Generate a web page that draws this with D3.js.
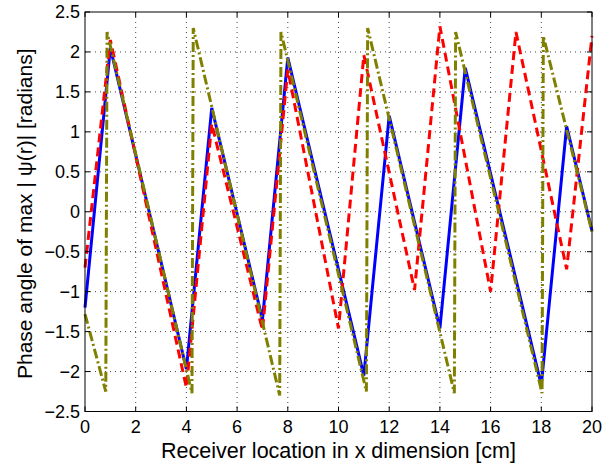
<!DOCTYPE html>
<html>
<head>
<meta charset="utf-8">
<script src="https://cdn.jsdelivr.net/npm/d3@7"></script>
<style>
  body { margin: 0; background: #fff; }
  svg { display: block; }
</style>
</head>
<body>
<div id="chart"></div>
<script>
// x ticks / y ticks
const xTicks = [0, 2, 4, 6, 8, 10, 12, 14, 16, 18, 20];
const yTicks = [-2.5, -2, -1.5, -1, -0.5, 0, 0.5, 1, 1.5, 2, 2.5];

// blue solid series (vertices)
const blueX = [0, 1, 4, 5, 7, 8, 11, 12, 14, 15, 18, 19, 20];
const blueY = [-1.2, 2.05, -1.97, 1.3, -1.35, 1.93, -2.05, 1.2, -1.46, 1.8, -2.17, 1.07, -0.24];

// red dashed series
const redX = [0, 1, 4, 5, 7, 8, 10, 11, 13, 14, 16, 17, 19, 20];
const redY = [-0.7, 2.15, -2.2, 1.1, -1.48, 1.78, -1.46, 1.96, -0.98, 2.32, -1.0, 2.25, -0.72, 2.2];

// olive dash-dot series
const oliveX = [0, 0.82, 0.87, 4.22, 4.27, 7.68, 7.73, 11.1, 11.15, 14.57, 14.62, 18.03, 18.08, 20];
const oliveY = [-1.28, -2.25, 2.25, -2.27, 2.3, -2.3, 2.25, -2.25, 2.3, -2.27, 2.25, -2.27, 2.2, -0.25];

const W = 616, H = 464;
const mLeft = 85, mRight = 592, mTop = 12, mBottom = 411.5;

const x = d3.scaleLinear().domain([0, 20]).range([mLeft, mRight]);
const y = d3.scaleLinear().domain([-2.5, 2.5]).range([mBottom, mTop]);

const svg = d3.select("#chart").append("svg")
    .attr("width", W)
    .attr("height", H)
    .style("font-family", "'Liberation Sans', Arial, Helvetica, sans-serif");

const fmt = v => (v < 0 ? "\u2212" : "") + Math.abs(v);

// grid
const grid = svg.append("g");
grid.selectAll(".gx")
    .data(xTicks.slice(1, -1))
    .enter().append("line")
    .attr("x1", d => x(d)).attr("x2", d => x(d))
    .attr("y1", mTop).attr("y2", mBottom)
    .attr("stroke", "#444").attr("stroke-width", 1)
    .attr("stroke-dasharray", "1 4");
grid.selectAll(".gy")
    .data(yTicks.slice(1, -1))
    .enter().append("line")
    .attr("x1", mLeft).attr("x2", mRight)
    .attr("y1", d => y(d)).attr("y2", d => y(d))
    .attr("stroke", "#444").attr("stroke-width", 1)
    .attr("stroke-dasharray", "1 4");

// series
const line = d3.line().x(d => x(d[0])).y(d => y(d[1]));
const zip = (a, b) => a.map((v, i) => [v, b[i]]);

const plot = svg.append("g");
plot.append("path")
    .attr("d", line(zip(blueX, blueY)))
    .attr("fill", "none")
    .attr("stroke", "#0000ff")
    .attr("stroke-width", 3)
    .attr("stroke-linejoin", "miter");

plot.append("path")
    .attr("d", line(zip(redX, redY)))
    .attr("fill", "none")
    .attr("stroke", "#ff0000")
    .attr("stroke-width", 3)
    .attr("stroke-dasharray", "9 5");

plot.append("path")
    .attr("d", line(zip(oliveX, oliveY)))
    .attr("fill", "none")
    .attr("stroke", "#808000")
    .attr("stroke-width", 3)
    .attr("stroke-dasharray", "10 3 2 3");

// box
svg.append("rect")
    .attr("x", mLeft).attr("y", mTop)
    .attr("width", mRight - mLeft).attr("height", mBottom - mTop)
    .attr("fill", "none")
    .attr("stroke", "#000")
    .attr("stroke-width", 1);

// inward ticks on all sides
const tk = 5;
const ticks = svg.append("g").attr("stroke", "#000").attr("stroke-width", 1);
xTicks.forEach(v => {
    ticks.append("line").attr("x1", x(v)).attr("x2", x(v)).attr("y1", mBottom).attr("y2", mBottom - tk);
    ticks.append("line").attr("x1", x(v)).attr("x2", x(v)).attr("y1", mTop).attr("y2", mTop + tk);
});
yTicks.forEach(v => {
    ticks.append("line").attr("x1", mLeft).attr("x2", mLeft + tk).attr("y1", y(v)).attr("y2", y(v));
    ticks.append("line").attr("x1", mRight).attr("x2", mRight - tk).attr("y1", y(v)).attr("y2", y(v));
});

// tick labels
svg.selectAll(".xl")
    .data(xTicks)
    .enter().append("text")
    .attr("x", d => x(d))
    .attr("y", 433)
    .attr("text-anchor", "middle")
    .attr("font-size", "18px")
    .attr("fill", "#000")
    .text(fmt);

svg.selectAll(".yl")
    .data(yTicks)
    .enter().append("text")
    .attr("x", 80)
    .attr("y", d => y(d))
    .attr("dy", "0.36em")
    .attr("text-anchor", "end")
    .attr("font-size", "18px")
    .attr("fill", "#000")
    .text(fmt);

// axis titles
svg.append("text")
    .attr("x", (mLeft + mRight) / 2)
    .attr("y", 458)
    .attr("text-anchor", "middle")
    .attr("font-size", "21.5px")
    .attr("fill", "#000")
    .text("Receiver location in x dimension [cm]");

svg.append("text")
    .attr("transform", `translate(32, ${(mTop + mBottom) / 2 + 2}) rotate(-90)`)
    .attr("text-anchor", "middle")
    .attr("font-size", "21px")
    .attr("fill", "#000")
    .text("Phase angle of max | \u03c8(r)| [radians]");
</script>
</body>
</html>
